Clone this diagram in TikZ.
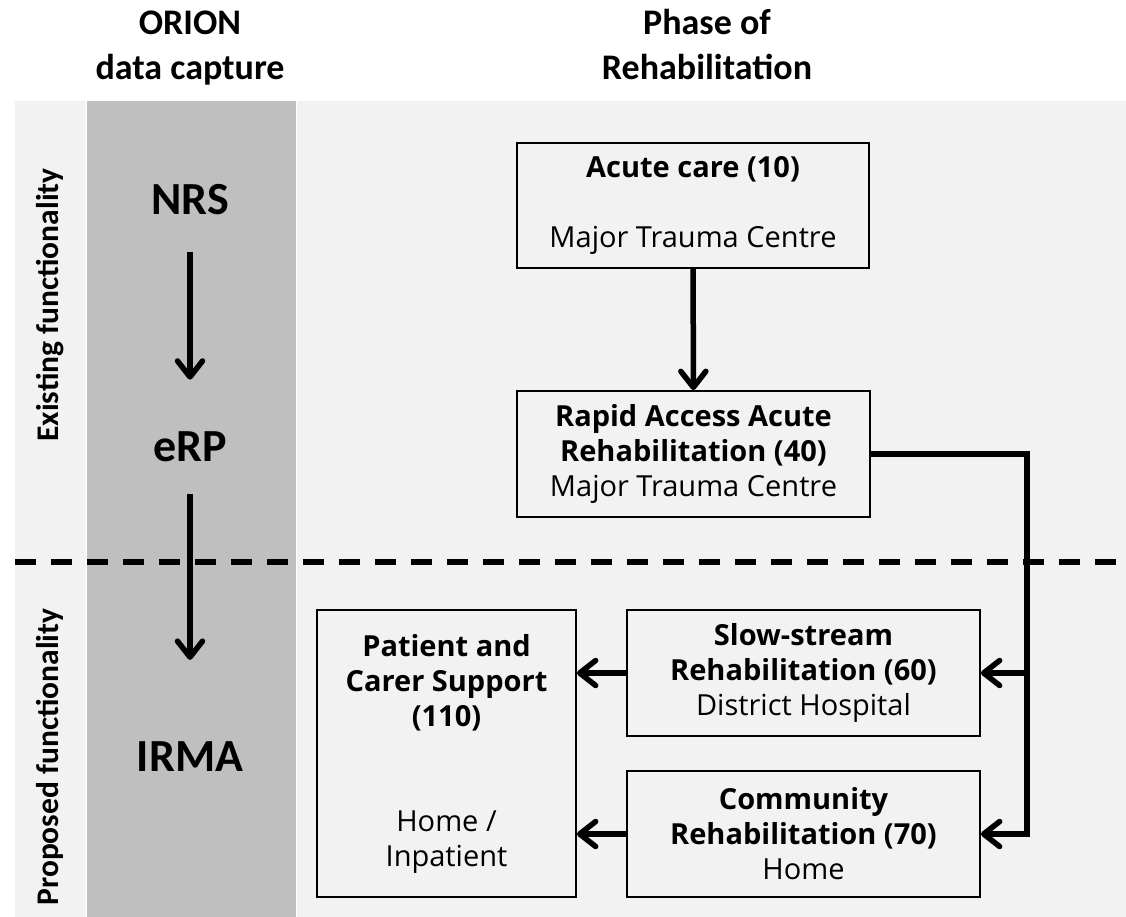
\documentclass[tikz,border=0pt]{standalone}
\usepackage{fontspec}
\setmainfont{Carlito}
\newfontfamily\boxfont{Open Sans}
\usetikzlibrary{arrows.meta}
\definecolor{lightbg}{HTML}{F2F2F2}
\definecolor{darkbg}{HTML}{BFBFBF}
\begin{document}
\begin{tikzpicture}[x=1pt,y=-1pt,
  head/.style={font=\fontsize{36}{45}\selectfont\bfseries, anchor=base, inner sep=0pt},
  side/.style={font=\fontsize{31.5}{36}\selectfont\bfseries, rotate=90, inner sep=0pt},
  sys/.style={font=\fontsize{46}{50}\selectfont\bfseries, inner sep=0pt},
  box/.style={draw, line width=1.8pt, fill=lightbg, align=center, inner sep=0pt,
    font=\boxfont\fontsize{29}{35}\selectfont},
  conn/.style={line width=5.5pt, line join=miter},
  arr/.style={-{Straight Barb[length=16pt,width=25pt,line cap=round,line join=round]}},
  divider/.style={line width=5.5pt, dash pattern=on 21pt off 15pt}
]
\useasboundingbox (0,0) rectangle (1126,917);
% backgrounds
\fill[lightbg] (15,101) rectangle (86.3,917);
\fill[darkbg] (87.3,101) rectangle (296,917);
\fill[lightbg] (297,101) rectangle (1126,917);

% headings
\node[head] (h1a) at (190,35) {ORION};
\node[head] (h1b) at (190,80) {data capture};
\node[head] (h2a) at (707,35) {Phase of};
\node[head] (h2b) at (707,80) {Rehabilitation};

% side labels
\node[side] (exist) at (50,305) {Existing functionality};
\node[side] (prop) at (50,757) {Proposed functionality};

% systems
\node[sys] (nrs) at (190,200) {NRS};
\node[sys] (erp) at (190,447) {eRP};
\node[sys] (irma) at (190,757) {IRMA};

% divider
\draw[divider] (15,562) -- (1126,562);

\draw[conn,arr,shorten <=37pt,shorten >=52pt] (nrs) -- (erp);
\draw[conn,arr,shorten <=32pt,shorten >=82pt] (erp) -- (irma);

% boxes
\node[box, minimum width=352pt, minimum height=125pt] (acute) at (693,205.5)
  {\textbf{Acute care (10)}\\[35pt]Major Trauma Centre};
\node[box, minimum width=353pt, minimum height=126pt] (raar) at (693.5,454)
  {\textbf{Rapid Access Acute}\\\textbf{Rehabilitation (40)}\\Major Trauma Centre};
\node[box, minimum width=353pt, minimum height=126pt] (slow) at (803.5,673)
  {\textbf{Slow-stream}\\\textbf{Rehabilitation (60)}\\District Hospital};
\node[box, minimum width=353pt, minimum height=126pt] (comm) at (803.5,834)
  {\textbf{Community}\\\textbf{Rehabilitation (70)}\\Home};
\node[box, minimum width=259pt, minimum height=287pt] (pat) at (446.5,753.5)
  {\textbf{Patient and}\\\textbf{Carer Support}\\\textbf{(110)}\\[70pt]Home /\\Inpatient};

% connectors
\coordinate (bend) at (1027,454);
\draw[conn,arr] (acute) -- (raar);
\draw[conn,arr] (raar.east) -- (bend) |- (slow.east);
\draw[conn,arr] (bend) |- (comm.east);
\draw[conn,arr] (slow.west) -- (slow.west -| pat.east);
\draw[conn,arr] (comm.west) -- (comm.west -| pat.east);
\end{tikzpicture}
\end{document}
